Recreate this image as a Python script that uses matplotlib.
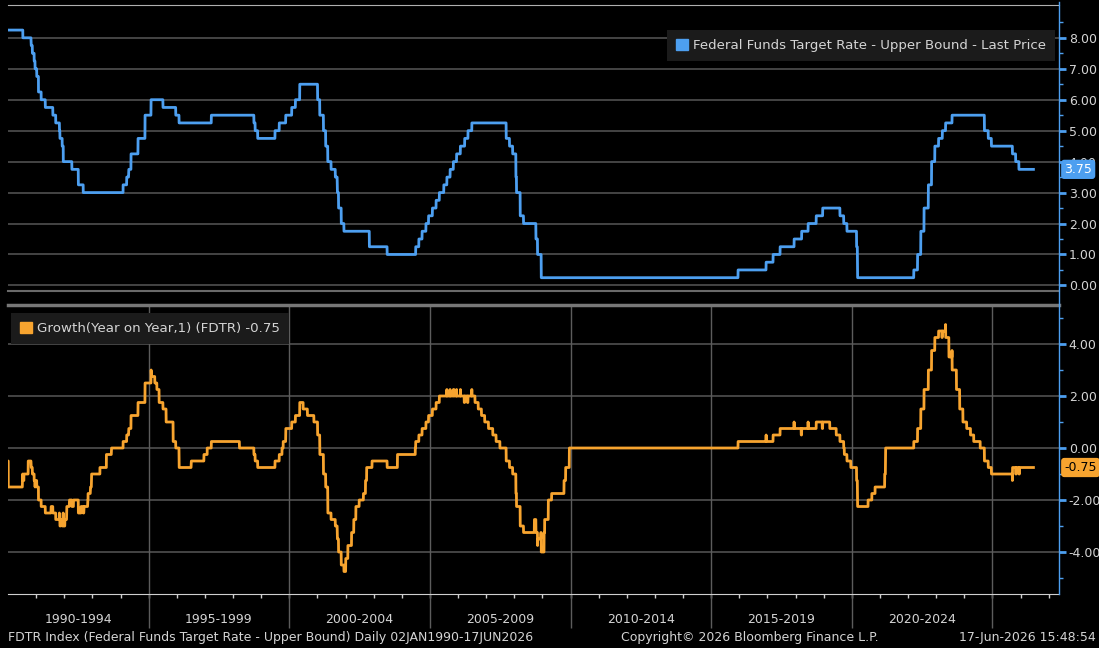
import numpy as np
import pandas as pd
import matplotlib
matplotlib.use("Agg")
import matplotlib.pyplot as plt
import matplotlib.transforms as mtransforms
from matplotlib.patches import Patch
from matplotlib.lines import Line2D

# FDTR (upper bound) - dates where the level changes and the new level
# 1989 levels only feed the year-on-year lag
change_dates = [
    "1988-12-15", "1989-01-05", "1989-07-07", "1989-07-27", "1989-09-20", "1989-12-20",
    "1990-07-13", "1990-10-29", "1990-11-13", "1990-12-07", "1990-12-18",
    "1991-01-09", "1991-02-01", "1991-03-08", "1991-04-30", "1991-08-06", "1991-09-13",
    "1991-10-31", "1991-11-06", "1991-12-06", "1991-12-20",
    "1992-04-09", "1992-07-02", "1992-09-04",
    "1994-02-04", "1994-03-22", "1994-04-18", "1994-05-17", "1994-08-16", "1994-11-15",
    "1995-02-01", "1995-07-06", "1995-12-19", "1996-01-31", "1997-03-25",
    "1998-09-29", "1998-10-15", "1998-11-17",
    "1999-06-30", "1999-08-24", "1999-11-16",
    "2000-02-02", "2000-03-21", "2000-05-16",
    "2001-01-03", "2001-01-31", "2001-03-20", "2001-04-18", "2001-05-15", "2001-06-27",
    "2001-08-21", "2001-09-17", "2001-10-02", "2001-11-06", "2001-12-11",
    "2002-11-06", "2003-06-25",
    "2004-06-30", "2004-08-10", "2004-09-21", "2004-11-10", "2004-12-14",
    "2005-02-02", "2005-03-22", "2005-05-03", "2005-06-30", "2005-08-09", "2005-09-20",
    "2005-11-01", "2005-12-13", "2006-01-31", "2006-03-28", "2006-05-10", "2006-06-29",
    "2007-09-18", "2007-10-31", "2007-12-11",
    "2008-01-22", "2008-01-30", "2008-03-18", "2008-04-30", "2008-10-08", "2008-10-29",
    "2008-12-16",
    "2015-12-16", "2016-12-14", "2017-03-15", "2017-06-14", "2017-12-13",
    "2018-03-21", "2018-06-13", "2018-09-26", "2018-12-19",
    "2019-07-31", "2019-09-18", "2019-10-30",
    "2020-03-03", "2020-03-15",
    "2022-03-16", "2022-05-04", "2022-06-15", "2022-07-27", "2022-09-21", "2022-11-02",
    "2022-12-14", "2023-02-01", "2023-03-22", "2023-05-03", "2023-07-26",
    "2024-09-18", "2024-11-07", "2024-12-18",
    "2025-09-17", "2025-10-29", "2025-12-10",
]
upper_bound = [
    8.75, 9.75, 9.25, 9.00, 8.50, 8.25,
    8.00, 7.75, 7.50, 7.25, 7.00,
    6.75, 6.25, 6.00, 5.75, 5.50, 5.25,
    5.00, 4.75, 4.50, 4.00,
    3.75, 3.25, 3.00,
    3.25, 3.50, 3.75, 4.25, 4.75, 5.50,
    6.00, 5.75, 5.50, 5.25, 5.50,
    5.25, 5.00, 4.75,
    5.00, 5.25, 5.50,
    5.75, 6.00, 6.50,
    6.00, 5.50, 5.00, 4.50, 4.00, 3.75,
    3.50, 3.00, 2.50, 2.00, 1.75,
    1.25, 1.00,
    1.25, 1.50, 1.75, 2.00, 2.25,
    2.50, 2.75, 3.00, 3.25, 3.50, 3.75,
    4.00, 4.25, 4.50, 4.75, 5.00, 5.25,
    4.75, 4.50, 4.25,
    3.50, 3.00, 2.25, 2.00, 1.50, 1.00,
    0.25,
    0.50, 0.75, 1.00, 1.25, 1.50,
    1.75, 2.00, 2.25, 2.50,
    2.25, 2.00, 1.75,
    1.25, 0.25,
    0.50, 1.00, 1.75, 2.50, 3.25, 4.00,
    4.50, 4.75, 5.00, 5.25, 5.50,
    5.00, 4.75, 4.50,
    4.25, 4.00, 3.75,
]
period_labels = ["1990-1994", "1995-1999", "2000-2004", "2005-2009",
                 "2010-2014", "2015-2019", "2020-2024"]
top_ticks = [0, 1, 2, 3, 4, 5, 6, 7, 8]
bottom_ticks = [-4, -2, 0, 2, 4]
last_level = 3.75
last_yoy = -0.75

BLUE = "#4d9ff0"
ORANGE = "#f7a42f"
TXT = "#d4d4d4"
GRID = "#505050"
FS = 9

rates = pd.Series(upper_bound, index=pd.to_datetime(change_dates))
days = pd.bdate_range("1990-01-02", "2026-06-17")
level = rates.asof(days).values
lag = rates.asof(days - pd.DateOffset(years=1)).values
yoy = level - lag   # Growth(Year on Year,1): change vs one year earlier

plt.rcParams["font.family"] = "DejaVu Sans"
plt.rcParams["font.size"] = FS

W, H = 1099, 648
fig = plt.figure(figsize=(W / 100, H / 100), dpi=100, facecolor="black")
ax1 = fig.add_axes([8 / W, 1 - 291 / H, (1059 - 8) / W, (291 - 5) / H])
ax2 = fig.add_axes([8 / W, 1 - 594 / H, (1059 - 8) / W, (594 - 305) / H], sharex=ax1)

x0, x1 = pd.Timestamp("1990-01-01"), pd.Timestamp("2027-05-15")

for ax in (ax1, ax2):
    ax.set_facecolor("black")
    ax.yaxis.tick_right()
    ax.spines["left"].set_visible(False)
    ax.spines["right"].set_visible(False)
    ax.tick_params(axis="y", which="major", colors=BLUE, length=5, width=2,
                   pad=2, labelcolor=TXT, labelsize=FS)
    ax.tick_params(axis="y", which="minor", colors=BLUE, length=3, width=1)
    ax.grid(axis="y", color=GRID, lw=1.2)
    ax.set_axisbelow(True)

# top panel
ax1.plot(days, level, color=BLUE, lw=2.0)
ax1.set_ylim(-0.18, 9.06)
ax1.set_yticks(top_ticks)
ax1.set_yticks(np.arange(0.5, 9, 1.0), minor=True)
ax1.set_yticklabels([f"{v:.2f}" for v in top_ticks])
ax1.spines["top"].set_color("#b0b0b0")
ax1.spines["bottom"].set_color("#6a6a6a")
ax1.spines["bottom"].set_linewidth(1.5)
ax1.tick_params(axis="x", which="both", bottom=False, labelbottom=False)
ax1.legend(handles=[Patch(color=BLUE, label="Federal Funds Target Rate - Upper Bound - Last Price")],
           loc="upper right", bbox_to_anchor=(0.996, 0.912), borderaxespad=0,
           frameon=True, facecolor="#1b1b1b", edgecolor="none", fancybox=False,
           framealpha=1, handlelength=0.9, handleheight=0.9, handletextpad=0.4,
           borderpad=0.65, labelcolor=TXT, fontsize=9.6)

# bottom panel
ax2.plot(days, yoy, color=ORANGE, lw=2.0)
ax2.set_ylim(-5.615, 5.5)
ax2.set_yticks(bottom_ticks)
ax2.set_yticks([-5, -3, -1, 1, 3, 5], minor=True)
ax2.set_yticklabels([f"{v:.2f}" for v in bottom_ticks])
ax2.spines["top"].set_color("#777777")
ax2.spines["top"].set_linewidth(2.5)
ax2.spines["bottom"].set_color("#cfcfcf")
ax2.legend(handles=[Patch(color=ORANGE, label=f"Growth(Year on Year,1) (FDTR) {last_yoy:.2f}")],
           loc="upper left", bbox_to_anchor=(0.003, 0.972), borderaxespad=0,
           frameon=True, facecolor="#1b1b1b", edgecolor="none", fancybox=False,
           framealpha=1, handlelength=0.9, handleheight=0.9, handletextpad=0.4,
           borderpad=0.65, labelcolor=TXT, fontsize=9.6)

ax1.set_xlim(x0, x1)
year_ticks = pd.date_range("1991-01-01", "2027-01-01", freq="YS")
ax2.set_xticks(year_ticks)
ax2.tick_params(axis="x", which="major", colors="#cfcfcf", length=3, width=1,
                labelbottom=False)

# period separators and labels below the axis
bounds = pd.date_range("1995-01-01", "2025-01-01", freq="5YS")
tr = mtransforms.blended_transform_factory(ax2.transData, ax2.transAxes)
ax2.vlines(bounds, -0.118, 1.0, transform=tr, color="#5c5c5c", lw=1.0, clip_on=False, zorder=1)
for i, lab in enumerate(period_labels):
    mid = pd.Timestamp(f"{1990 + 5 * i + 2}-07-02")
    ax2.text(mid, -0.087, lab, transform=tr, ha="center", va="center", color=TXT, fontsize=FS)

# last value badges on the axis
tr1 = mtransforms.blended_transform_factory(ax1.transAxes, ax1.transData)
ax1.text(1.005, last_level, f"{last_level:.2f}", transform=tr1, ha="left", va="center",
         color="white", fontsize=FS, zorder=5,
         bbox=dict(boxstyle="round,pad=0.25,rounding_size=0.25", fc=BLUE, ec="none"))
tr2 = mtransforms.blended_transform_factory(ax2.transAxes, ax2.transData)
ax2.text(1.005, last_yoy, f"{last_yoy:.2f}", transform=tr2, ha="left", va="center",
         color="black", fontsize=FS, zorder=5,
         bbox=dict(boxstyle="round,pad=0.25,rounding_size=0.25", fc=ORANGE, ec="none"))

# continuous value axis line through both panels
fig.add_artist(Line2D([1059 / W, 1059 / W], [1 - 594 / H, 1 - 2 / H], color=BLUE, lw=1.0))

# footer
fig.text(8 / W, 1 - 638 / H, "FDTR Index (Federal Funds Target Rate - Upper Bound) Daily 02JAN1990-17JUN2026",
         color=TXT, fontsize=FS, va="center", ha="left")
fig.text(750 / W, 1 - 638 / H, "Copyright\u00a9 2026 Bloomberg Finance L.P.",
         color=TXT, fontsize=FS, va="center", ha="center")
fig.text(1096 / W, 1 - 638 / H, "17-Jun-2026 15:48:54",
         color=TXT, fontsize=FS, va="center", ha="right")

fig.savefig("out.png", dpi=100, facecolor="black")
